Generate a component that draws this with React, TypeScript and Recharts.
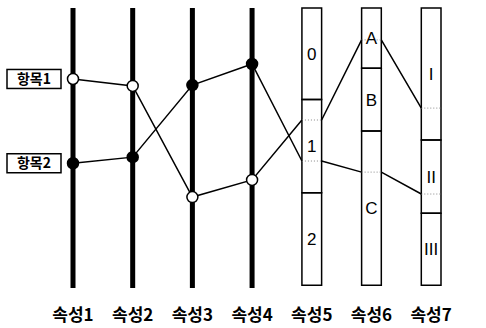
import { LineChart, Line, XAxis, YAxis, ReferenceArea, ReferenceDot } from "recharts"

const attributes = ["속성1", "속성2", "속성3", "속성4", "속성5", "속성6", "속성7"]
const itemNames = ["항목1", "항목2"]

// positions on each attribute, 0 = top, 101 = bottom
const item1 = [25.6, 28.1, 68.2, 62.0, 40.4, 11.5, 36.1]
const item2 = [56.0, 53.8, 27.8, 20.2, 55.2, 59.2, 67.1]

// categorical attributes (5, 6, 7): category names and their bounds
const boxLabels: Record<number, string[]> = {
  4: ["0", "1", "2"],
  5: ["A", "B", "C"],
  6: ["I", "II", "III"],
}
const boxBounds: Record<number, number[]> = {
  4: [0, 33.0, 66.6, 100],
  5: [0, 21.7, 44.4, 100],
  6: [0, 47.6, 74.0, 100],
}

const HALF = 0.165
const KR = "'Noto Sans CJK KR', 'Noto Sans', sans-serif"
const LATIN = "'Liberation Sans', Arial, sans-serif"

function buildSeries(values: number[]) {
  const solid: any[] = []
  const dotted: any[] = []
  values.forEach((v, i) => {
    if (boxLabels[i]) {
      solid.push({ x: i - HALF, y: v }, { x: i, y: null }, { x: i + HALF, y: v })
      dotted.push({ x: i - HALF, y: v }, { x: i + HALF, y: v }, { x: i + 0.5, y: null })
    } else {
      solid.push({ x: i, y: v, dot: true })
    }
  })
  return { solid, dotted }
}

const axisData: any[] = []
attributes.forEach((_, i) => {
  if (!boxLabels[i]) axisData.push({ x: i, y: 0 }, { x: i, y: 101 }, { x: i + 0.5, y: null })
})

const series = [
  { name: itemNames[0], values: item1, fill: "#fff", ...buildSeries(item1) },
  { name: itemNames[1], values: item2, fill: "#000", ...buildSeries(item2) },
]

const makeDot = (fill: string) => (props: any) => {
  const { cx, cy, payload, index } = props
  if (!payload || !payload.dot || cy == null) return <g key={`d-${index}`} />
  return <circle key={`d-${index}`} cx={cx} cy={cy} r={5.5} fill={fill} stroke="#000" strokeWidth={1.5} />
}

const ItemTag = (name: string) => (props: any) => {
  const { cx, cy } = props
  return (
    <g>
      <rect x={cx - 66} y={cy - 9.5} width={54} height={19} fill="#fff" stroke="#000" strokeWidth={1.5} />
      <text x={cx - 39} y={cy + 5} textAnchor="middle" fontSize={14} fontWeight={700} fontFamily={KR} fill="#000">
        {name}
      </text>
    </g>
  )
}

const AttrTick = (props: any) => {
  const { x, payload } = props
  return (
    <text x={x} y={321} textAnchor="middle" fontSize={17} fontWeight={700} fontFamily={KR} fill="#000">
      {attributes[payload.value]}
    </text>
  )
}

export default function App() {
  return (
    <div style={{ position: "absolute", left: 0, top: 0, background: "#fff" }}>
      <LineChart width={486} height={328} margin={{ top: 8, right: 25, bottom: 0, left: 73 }}>
        <XAxis
          type="number"
          dataKey="x"
          domain={[0, 6]}
          ticks={[0, 1, 2, 3, 4, 5, 6]}
          height={40}
          axisLine={false}
          tickLine={false}
          tick={AttrTick}
          interval={0}
        />
        <YAxis type="number" dataKey="y" domain={[0, 101]} reversed hide />

        {Object.keys(boxLabels).map((k) => {
          const i = Number(k)
          return boxLabels[i].map((lab, j) => (
            <ReferenceArea
              key={`box-${i}-${j}`}
              x1={i - HALF}
              x2={i + HALF}
              y1={boxBounds[i][j]}
              y2={boxBounds[i][j + 1]}
              fill="#fff"
              fillOpacity={0}
              stroke="#000"
              strokeWidth={1.5}
              label={{ value: lab, position: "center", fill: "#000", fontSize: 17, fontFamily: LATIN }}
            />
          ))
        })}

        <Line
          data={axisData}
          dataKey="y"
          stroke="#000"
          strokeWidth={5}
          dot={false}
          activeDot={false}
          connectNulls={false}
          isAnimationActive={false}
        />

        {series.map((s) => (
          <Line
            key={`dotted-${s.name}`}
            data={s.dotted}
            dataKey="y"
            stroke="#888"
            strokeWidth={1}
            strokeDasharray="1 2"
            dot={false}
            activeDot={false}
            connectNulls={false}
            isAnimationActive={false}
          />
        ))}

        {series.map((s) => (
          <Line
            key={`solid-${s.name}`}
            data={s.solid}
            dataKey="y"
            stroke="#000"
            strokeWidth={1.5}
            dot={makeDot(s.fill)}
            activeDot={false}
            connectNulls={false}
            isAnimationActive={false}
          />
        ))}

        {series.map((s) => (
          <ReferenceDot key={`tag-${s.name}`} x={0} y={s.values[0]} r={0} shape={ItemTag(s.name)} />
        ))}
      </LineChart>
    </div>
  )
}
